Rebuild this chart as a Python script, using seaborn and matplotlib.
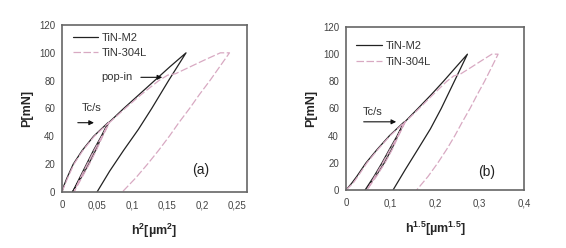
import numpy as np
import pandas as pd
import seaborn as sns
import matplotlib.pyplot as plt

# load P [mN] along the whole indentation path (load, unload, reload, load, hold, unload)
load_m2 = [0, 5, 10, 20, 30, 40, 50,
           40, 30, 20, 10, 0,
           10, 20, 30, 40, 50,
           60, 70, 80, 90, 100,
           80, 60, 45, 30, 15, 0]
# h^2 [um^2]
h2_m2 = [0, 0.003, 0.007, 0.016, 0.029, 0.045, 0.066,
         0.056, 0.045, 0.035, 0.025, 0.015,
         0.027, 0.038, 0.048, 0.057, 0.067,
         0.088, 0.110, 0.132, 0.154, 0.177,
         0.152, 0.128, 0.109, 0.088, 0.068, 0.050]

load_304 = [0, 5, 10, 20, 30, 40, 50,
            40, 30, 20, 10, 0,
            10, 20, 30, 40, 50,
            60, 70, 80, 84, 85, 90, 95, 100, 100,
            90, 80, 70, 60, 50, 40, 30, 20, 10, 0]
h2_304 = [0, 0.004, 0.008, 0.017, 0.030, 0.046, 0.067,
          0.057, 0.046, 0.036, 0.026, 0.017,
          0.028, 0.039, 0.049, 0.058, 0.068,
          0.090, 0.113, 0.138, 0.151, 0.162, 0.183, 0.204, 0.226, 0.239,
          0.225, 0.211, 0.196, 0.182, 0.167, 0.153, 0.138, 0.122, 0.105, 0.086]

labels = ['TiN-M2', 'TiN-304L']
yticks = [0, 20, 40, 60, 80, 100, 120]
xticks_a = [0, 0.05, 0.1, 0.15, 0.2, 0.25]
xticklabels_a = ['0', '0,05', '0,1', '0,15', '0,2', '0,25']
xticks_b = [0, 0.1, 0.2, 0.3, 0.4]
xticklabels_b = ['0', '0,1', '0,2', '0,3', '0,4']

df = pd.concat([
    pd.DataFrame({'h2': h2_m2, 'P': load_m2, 'mat': labels[0]}),
    pd.DataFrame({'h2': h2_304, 'P': load_304, 'mat': labels[1]}),
])
# h^1.5 = (h^2)^0.75
df['h15'] = df['h2'] ** 0.75

sns.set_style('white')
plt.rcParams['font.family'] = ['Liberation Sans', 'DejaVu Sans']
plt.rcParams['mathtext.fontset'] = 'custom'
plt.rcParams['mathtext.rm'] = 'Liberation Sans:bold'
plt.rcParams['mathtext.bf'] = 'Liberation Sans:bold'
plt.rcParams['mathtext.it'] = 'Liberation Sans:bold'
plt.rcParams['mathtext.default'] = 'rm'

palette = {labels[0]: '#222222', labels[1]: '#d8a9c2'}
dashes = {labels[0]: '', labels[1]: (6, 2)}

fig = plt.figure(figsize=(5.66, 2.48), dpi=100)
ax_a = fig.add_axes([62 / 566, 1 - 192 / 248, 185 / 566, 167 / 248])
ax_b = fig.add_axes([346 / 566, 1 - 190 / 248, 178 / 566, 163 / 248])

for ax, xcol, leg_y in [(ax_a, 'h2', 1.0), (ax_b, 'h15', 0.96)]:
    sns.lineplot(data=df, x=xcol, y='P', hue='mat', style='mat', units='mat',
                 estimator=None, sort=False, palette=palette, dashes=dashes,
                 linewidth=0.9, ax=ax)
    ax.set_ylim(0, 120)
    ax.set_yticks(yticks)
    ax.set_ylabel('P[mN]', fontsize=9, fontweight='bold', labelpad=4)
    ax.tick_params(axis='y', direction='out', length=3, width=0.8,
                   labelsize=7, colors='#444444', pad=2)
    ax.tick_params(axis='x', direction='in', length=3, width=0.8,
                   labelsize=7, colors='#444444', pad=6)
    for s in ax.spines.values():
        s.set_color('#666666')
        s.set_linewidth(1.2)
    leg = ax.legend(loc='upper left', bbox_to_anchor=(0.015, leg_y),
                    frameon=False, fontsize=8,
                    handlelength=2.3, handletextpad=0.3, labelspacing=0.5,
                    borderaxespad=0.3)
    for t in leg.get_texts():
        t.set_color('#333333')

ax_a.set_xlim(0, 0.264)
ax_a.set_xticks(xticks_a)
ax_a.set_xticklabels(xticklabels_a)
ax_a.set_xlabel(r'h$^{2}$[µm$^{2}$]', fontsize=9, fontweight='bold', labelpad=8)

ax_b.set_xlim(0, 0.4)
ax_b.set_xticks(xticks_b)
ax_b.set_xticklabels(xticklabels_b)
ax_b.set_xlabel(r'h$^{1.5}$[µm$^{1.5}$]', fontsize=9, fontweight='bold', labelpad=8)

arrow = dict(arrowstyle='-|>', color='#111111', lw=0.8, mutation_scale=7)
ax_a.annotate('', xy=(0.0496, 49.8), xytext=(0.0186, 49.8), arrowprops=arrow)
ax_a.text(0.028, 60.4, 'Tc/s', fontsize=8, color='#333333', va='center')
ax_a.annotate('', xy=(0.147, 82.4), xytext=(0.1086, 82.4), arrowprops=arrow)
ax_a.text(0.0567, 82.4, 'pop-in', fontsize=8, color='#333333', va='center')
ax_a.text(0.185, 15.8, '(a)', fontsize=10, color='#222222', va='center')

ax_b.annotate('', xy=(0.119, 50.2), xytext=(0.0335, 50.2), arrowprops=arrow)
ax_b.text(0.037, 57.5, 'Tc/s', fontsize=8, color='#333333', va='center')
ax_b.text(0.297, 13.4, '(b)', fontsize=10, color='#222222', va='center')

fig.savefig('out.png', dpi=100)
